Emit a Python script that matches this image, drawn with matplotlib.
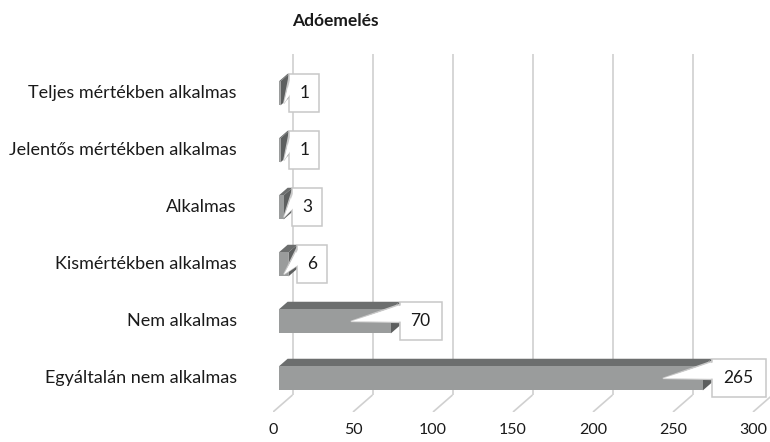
import matplotlib.pyplot as plt
from matplotlib.patches import Rectangle, Polygon

# Chart data (bottom to top)
categories = ['Egyáltalán nem alkalmas', 'Nem alkalmas', 'Kismértékben alkalmas',
              'Alkalmas', 'Jelentős mértékben alkalmas', 'Teljes mértékben alkalmas']
values = [265, 70, 6, 3, 1, 1]
x_ticks = [0, 50, 100, 150, 200, 250, 300]
title = 'Adóemelés'

plt.rcParams['font.family'] = ['Lato', 'DejaVu Sans']

W, H = 770, 442
fig = plt.figure(figsize=(W / 100, H / 100), dpi=100)

# pixel scale of the data axes
SX = 1.6   # px per value unit
SY = 57.0  # px per category
ax = fig.add_axes([273 / W, 30 / H, 497 / W, 372 / H])
ax.set_xlim(0, 497 / SX)
ax.set_ylim(0, 372 / SY)
for s in ax.spines.values():
    s.set_visible(False)

# fake 3D depth (front -> back)
DX = 19.5 / SX
DY = 17.0 / SY
D0, D1 = 0.3, 0.75    # bar depth range
BAR_H = 24 / SY
GRID_TOP = 5.98

def proj(x, y, d):
    return x + d * DX, y + d * DY

grid_col = '#d0d0d0'
for v in x_ticks:
    # back wall line
    x0, y0 = proj(v, 0, 1)
    x1, y1 = proj(v, GRID_TOP, 1)
    ax.plot([x0, x1], [y0, y1], color=grid_col, lw=1.2, zorder=1, solid_capstyle='butt')
    # floor line
    xf, yf = proj(v, 0, 0)
    ax.plot([xf, x0], [yf, y0], color=grid_col, lw=1.2, zorder=1, solid_capstyle='butt')

front_col = '#9a9c9c'
top_col = '#6c6e6e'
end_col = '#5d5f5f'

for i, v in enumerate(values):
    yc = i + 0.5
    yb, yt = yc - BAR_H / 2, yc + BAR_H / 2
    front = [proj(0, yb, D0), proj(v, yb, D0), proj(v, yt, D0), proj(0, yt, D0)]
    top = [proj(0, yt, D0), proj(v, yt, D0), proj(v, yt, D1), proj(0, yt, D1)]
    end = [proj(v, yb, D0), proj(v, yb, D1), proj(v, yt, D1), proj(v, yt, D0)]
    ax.add_patch(Polygon(top, closed=True, fc=top_col, ec='none', zorder=2))
    ax.add_patch(Polygon(end, closed=True, fc=end_col, ec='none', zorder=2))
    ax.add_patch(Polygon(front, closed=True, fc=front_col, ec='none', zorder=3))

    # callout box
    label = str(v)
    bx, _ = proj(v, yc, D1)
    bcy = proj(v, yc, D0)[1]
    bw = (18 + 12 * len(label)) / SX
    bh = 38 / SY
    ax.add_patch(Rectangle((bx, bcy - bh / 2), bw, bh, fc='white', ec='#c8c8c8',
                           lw=1.1, zorder=5))
    # callout pointer
    start_x = proj(0, yc, D0)[0]
    end_x = proj(v, yc, D0)[0]
    if end_x - 40 / SX > start_x + 10 / SX:
        tip = (end_x - 40 / SX, bcy)
    else:
        tip = (start_x + 5 / SX, bcy - 10 / SY)
    wedge = [tip, (bx, bcy + 17 / SY), (bx, bcy - 1 / SY)]
    ax.add_patch(Polygon(wedge, closed=True, fc='white', ec='#c8c8c8', lw=1.1, zorder=4))
    inner = [tip, (bx + 1.5 / SX, bcy + 16 / SY), (bx + 1.5 / SX, bcy - 0.2 / SY)]
    ax.add_patch(Polygon(inner, closed=True, fc='white', ec='none', zorder=6))
    ax.text(bx + bw / 2, bcy, label, ha='center', va='center', fontsize=12.5,
            color='#1a1a1a', zorder=7)

ax.set_xticks(x_ticks)
ax.set_xticklabels([str(t) for t in x_ticks])
ax.set_yticks([i + 0.63 for i in range(len(categories))])
ax.set_yticklabels(categories)
ax.tick_params(axis='x', length=0, pad=8, labelsize=11.5, labelcolor='#1a1a1a')
ax.tick_params(axis='y', length=0, pad=26, labelsize=13, labelcolor='#1a1a1a')

fig.text(335 / W, 1 - 21 / H, title, ha='center', va='center', fontsize=12.5,
         fontweight='bold', color='#1a1a1a')

fig.savefig('out.png', dpi=100)
